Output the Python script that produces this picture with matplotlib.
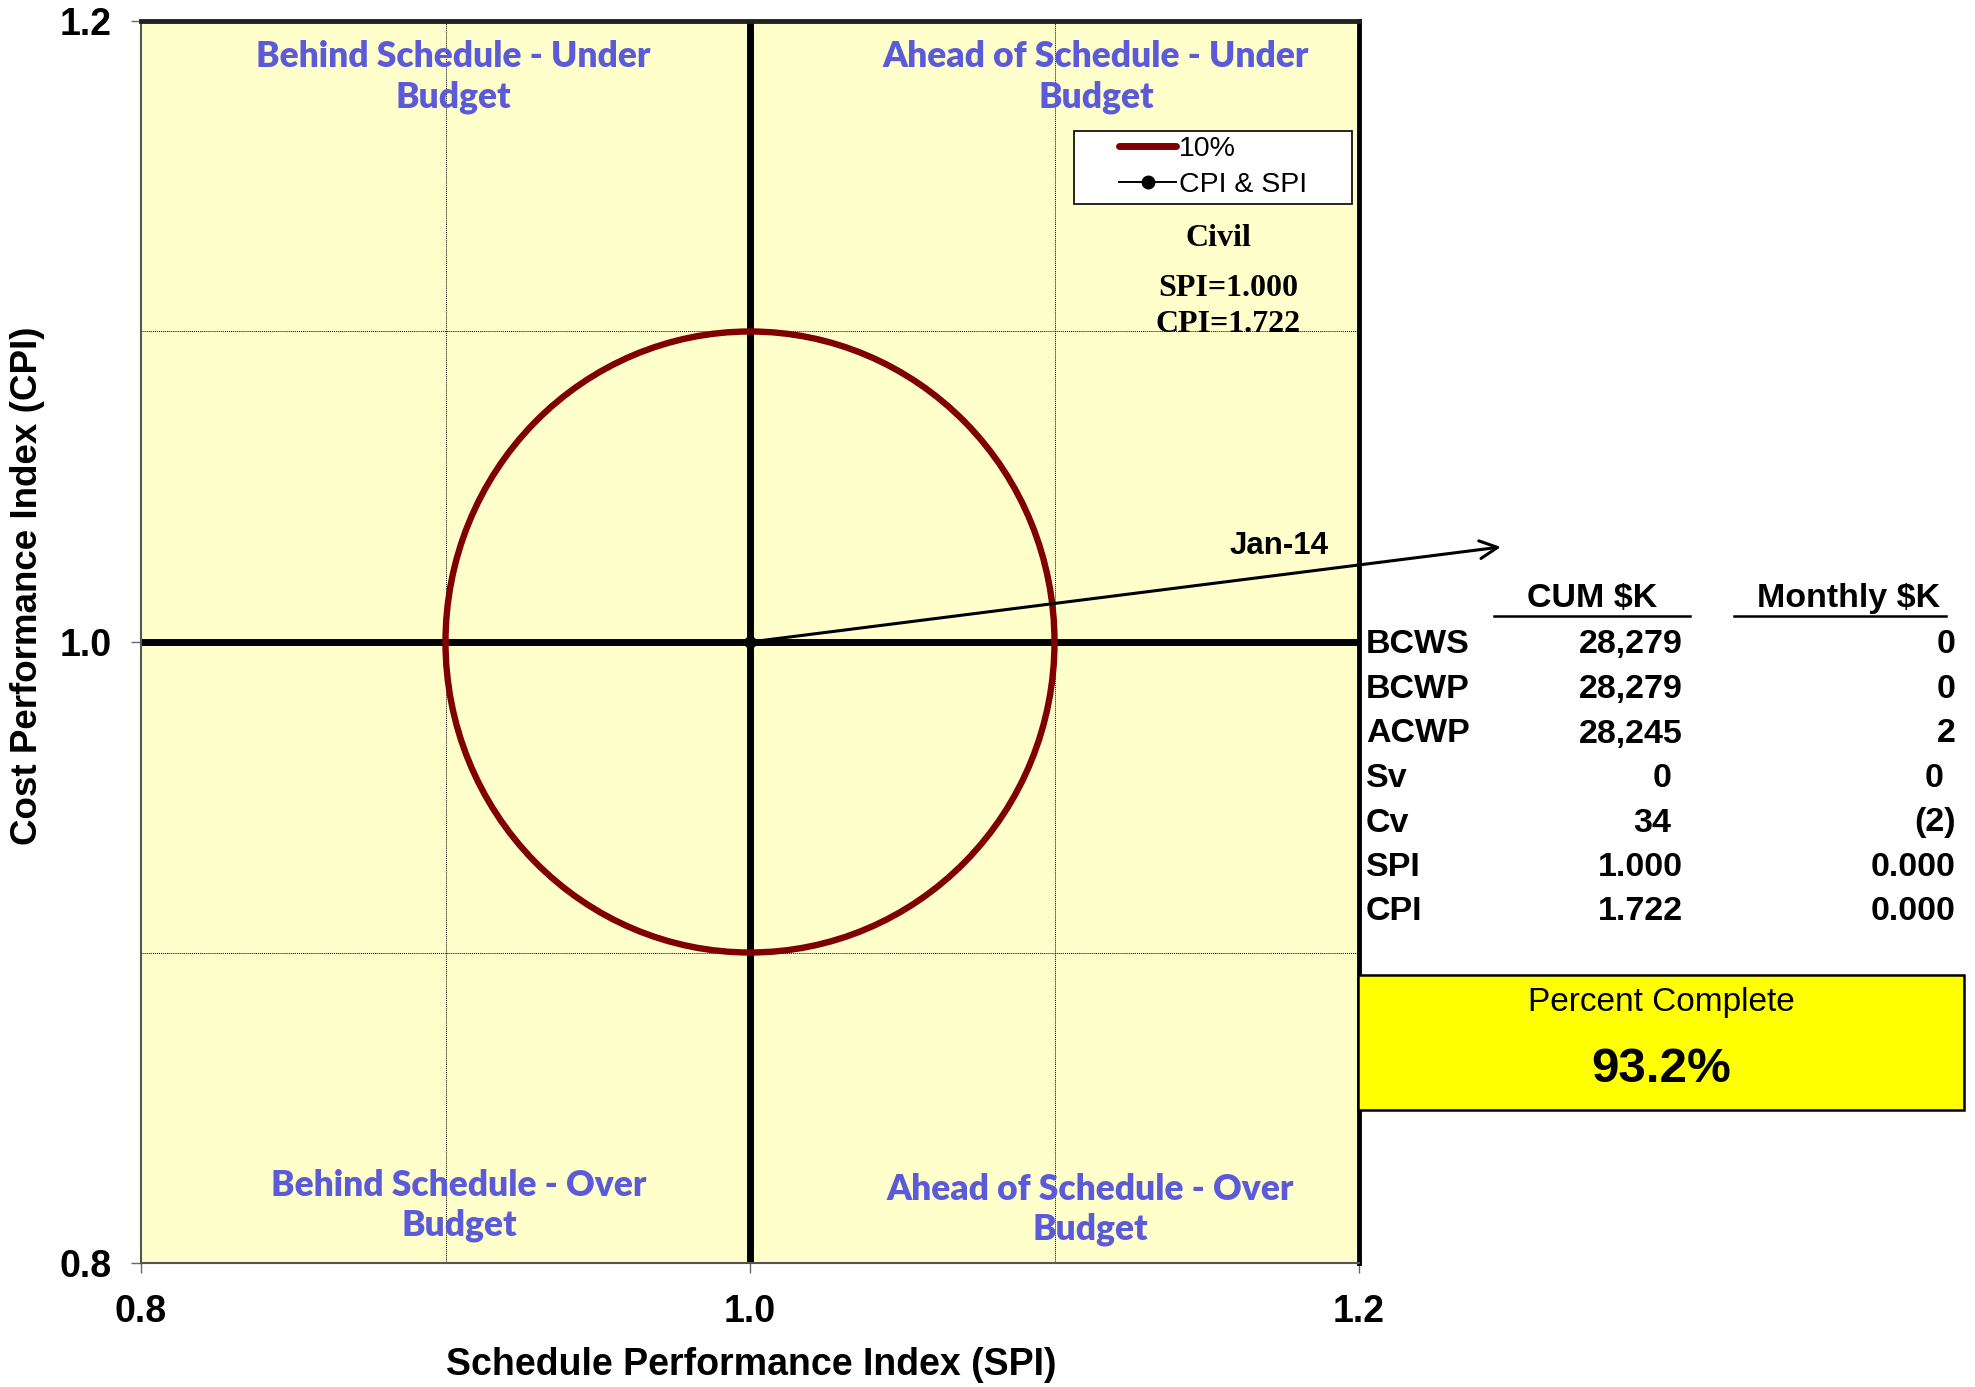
import matplotlib
matplotlib.use("Agg")
import matplotlib.pyplot as plt
from matplotlib.patches import Circle, Rectangle
from matplotlib.lines import Line2D

# data
spi_point = [1.0]
cpi_point = [1.0]
band_radius = 0.10   # the "10%" ring
region = "Civil"
spi_cum = 1.000
cpi_cum = 1.722
period = "Jan-14"

row_names = ["BCWS", "BCWP", "ACWP", "Sv", "Cv", "SPI", "CPI"]
cum_vals = [28279, 28279, 28245, 0, 34, 1.000, 1.722]
monthly_vals = [0, 0, 2, 0, -2, 0.000, 0.000]
paren_rows = ["Sv", "Cv"]
pct_complete = 93.2

ticks = [0.8, 1.0, 1.2]
tick_labels = ["0.8", "1.0", "1.2"]
quad_labels = ["Behind Schedule - Under\nBudget", "Ahead of Schedule - Under\nBudget",
               "Behind Schedule - Over\nBudget", "Ahead of Schedule - Over\nBudget"]

plt.rcParams['font.family'] = ['Liberation Sans', 'DejaVu Sans']

W, H = 1975, 1387
def fx(px):
    return px / W
def fy(py):
    return 1 - py / H

fig = plt.figure(figsize=(W / 100, H / 100), dpi=100)
ax = fig.add_axes([fx(141), fy(1263), 1218 / W, 1242 / H])
ax.set_facecolor("#FFFFCC")
ax.set_xlim(0.8, 1.2)
ax.set_ylim(0.8, 1.2)

# dotted grid at +-10%
for g in [0.9, 1.1]:
    ax.axvline(g, color="black", lw=0.7, ls=(0, (1, 1)), zorder=1)
    ax.axhline(g, color="black", lw=0.7, ls=(0, (1, 1)), zorder=1)
ax.axvline(1.0, color="black", lw=5, zorder=2)
ax.axhline(1.0, color="black", lw=5, zorder=2)

ax.add_patch(Circle((1.0, 1.0), band_radius, fill=False, ec="#800000", lw=4.6, zorder=3))
ax.plot(spi_point, cpi_point, "o", color="black", ms=8, zorder=4)

ax.set_xticks(ticks)
ax.set_xticklabels(tick_labels)
ax.set_yticks(ticks)
ax.set_yticklabels(tick_labels)
ax.tick_params(axis="both", direction="out", length=7, width=1, color="#666666",
               labelsize=27)
ax.tick_params(axis="x", pad=15)
ax.tick_params(axis="y", pad=14)
for lab in ax.get_xticklabels() + ax.get_yticklabels():
    lab.set_fontweight("bold")

for s in ["left", "bottom"]:
    ax.spines[s].set_linewidth(1.5)
    ax.spines[s].set_color("#555555")
ax.spines["top"].set_linewidth(3.5)
ax.spines["top"].set_color("#222222")
ax.spines["right"].set_linewidth(3.5)
ax.spines["right"].set_color("black")

fig.text(fx(751), fy(1365), "Schedule Performance Index (SPI)", ha="center", va="center",
         fontsize=27, fontweight="bold")
fig.text(fx(28), fy(586), "Cost Performance Index (CPI)", ha="center", va="center",
         rotation=90, fontsize=26.5, fontweight="bold")

# quadrant captions
quad_pos = [(0.9025, 1.182), (1.1136, 1.182), (0.9044, 0.8185), (1.1117, 0.8172)]
for (qx, qy), txt in zip(quad_pos, quad_labels):
    ax.text(qx, qy, txt, ha="center", va="center", color="#5B5BD9", fontsize=25.5,
            fontweight="heavy", family=["Lato", "DejaVu Sans"], linespacing=1.25, zorder=5)

# legend in a hand-drawn frame
fig.patches.append(Rectangle((fx(1074), fy(204)), 278 / W, 73 / H, transform=fig.transFigure,
                             fc="white", ec="black", lw=1.2, zorder=5))
handles = [Line2D([], [], color="#800000", lw=5, solid_capstyle="round"),
           Line2D([], [], color="black", lw=1.4, marker="o", ms=9)]
fig.legend(handles, ["10%", "CPI & SPI"], loc="center", bbox_to_anchor=(fx(1213), fy(167)),
           frameon=False, fontsize=20.5, handlelength=2.0, handletextpad=0.1,
           labelspacing=0.35, borderpad=0.1)

fig.text(fx(1218), fy(238), region, ha="center", va="center", fontsize=23,
         fontweight="bold", family=["Liberation Serif", "DejaVu Serif"])
fig.text(fx(1228), fy(288), "SPI=%.3f" % spi_cum, ha="center", va="center", fontsize=23,
         fontweight="bold", family=["Liberation Serif", "DejaVu Serif"])
fig.text(fx(1228), fy(325), "CPI=%.3f" % cpi_cum, ha="center", va="center", fontsize=23,
         fontweight="bold", family=["Liberation Serif", "DejaVu Serif"])

# Jan-14 callout arrow
ax.annotate("", xy=(1.2466, 1.0306), xytext=(spi_point[0], cpi_point[0]),
            annotation_clip=False,
            arrowprops=dict(arrowstyle="->", color="black", lw=2.2, mutation_scale=32,
                            shrinkA=0, shrinkB=0))
fig.text(fx(1329), fy(546), period, ha="right", va="center", fontsize=22.5, fontweight="bold")

# table
fig.text(fx(1592), fy(598), "CUM $K", ha="center", va="center", fontsize=24.5, fontweight="bold")
fig.text(fx(1849), fy(598), "Monthly $K", ha="center", va="center", fontsize=24.5, fontweight="bold")
fig.add_artist(Line2D([fx(1494), fx(1690)], [fy(616), fy(616)], color="black", lw=1.8))
fig.add_artist(Line2D([fx(1734), fx(1946)], [fy(616), fy(616)], color="black", lw=1.8))

def fmt(v, name):
    if name in ["SPI", "CPI"]:
        return "%.3f" % v
    if v < 0:
        return "(%s)" % format(-v, ",")
    return format(v, ",")

row_y0 = 645
row_step = 44.5
for i, name in enumerate(row_names):
    yy = fy(row_y0 + i * row_step)
    fig.text(fx(1366), yy, name, ha="left", va="center", fontsize=24.5, fontweight="bold")
    shift_c = 12 if (name in paren_rows and cum_vals[i] >= 0) else 0
    shift_m = 12 if (name in paren_rows and monthly_vals[i] >= 0) else 0
    fig.text(fx(1683 - shift_c), yy, fmt(cum_vals[i], name), ha="right", va="center",
             fontsize=24.5, fontweight="bold")
    fig.text(fx(1956 - shift_m), yy, fmt(monthly_vals[i], name), ha="right", va="center",
             fontsize=24.5, fontweight="bold")

# percent complete box
fig.patches.append(Rectangle((fx(1358), fy(1110)), 606 / W, 135 / H, transform=fig.transFigure,
                             fc="#FFFF00", ec="black", lw=1.8, zorder=5))
fig.text(fx(1661), fy(1002), "Percent Complete", ha="center", va="center", fontsize=24, zorder=6)
fig.text(fx(1661), fy(1069), "%.1f%%" % pct_complete, ha="center", va="center", fontsize=35.5,
         fontweight="bold", zorder=6)

fig.savefig("out.png", dpi=100)
